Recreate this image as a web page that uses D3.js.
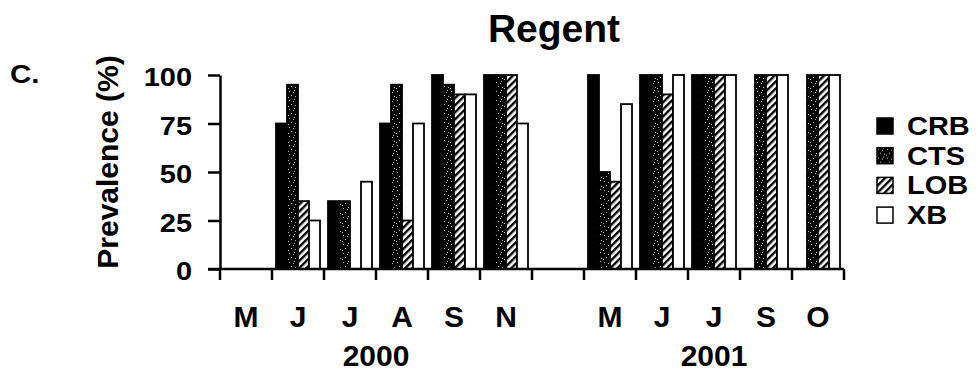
<!DOCTYPE html>
<html lang="en">
<head>
  <meta charset="utf-8">
  <title>Regent</title>
  <script type="text/javascript" src="https://cdnjs.cloudflare.com/ajax/libs/d3/7.8.5/d3.min.js"></script>
  <style>
    body { margin: 0; background: #fff; }
    text { font-family: "Liberation Sans", Arial, sans-serif; font-weight: bold; fill: #000; }
  </style>
</head>
<body>
  <script type="text/javascript">

  // mois (une case vide entre 2000 et 2001)
  var months = ["M", "J", "J", "A", "S", "N", "", "M", "J", "J", "S", "O"];
  var years = ["2000", "2001"];
  var yearSlots = [[0, 5], [7, 11]];
  var series = ["CRB", "CTS", "LOB", "XB"];
  var yTicks = [0, 25, 50, 75, 100];

  var CRB = [0, 75, 35, 75, 100, 100, null, 100, 100, 100, 0, 0];
  var CTS = [0, 95, 35, 95, 95, 100, null, 50, 100, 100, 100, 100];
  var LOB = [0, 35, 0, 25, 90, 100, null, 45, 90, 100, 100, 100];
  var XB  = [0, 25, 45, 75, 90, 75, null, 85, 100, 100, 100, 100];
  var values = { CRB: CRB, CTS: CTS, LOB: LOB, XB: XB };

  var width = 978, height = 374;
  var svg = d3.select("body").append("svg")
    .attr("width", width)
    .attr("height", height);

  // motifs : pointillé pour CTS, hachures pour LOB
  var defs = svg.append("defs");
  var stip = defs.append("pattern")
    .attr("id", "stip")
    .attr("patternUnits", "userSpaceOnUse")
    .attr("width", 9).attr("height", 9);
  stip.append("rect").attr("width", 9).attr("height", 9).attr("fill", "#000");
  [[1, 1], [5, 2], [3, 5], [7, 6], [0, 7], [6, 0]].forEach(function(p) {
    stip.append("rect").attr("x", p[0]).attr("y", p[1])
      .attr("width", 1).attr("height", 1).attr("fill", "#bbb");
  });
  var hatch = defs.append("pattern")
    .attr("id", "hatch")
    .attr("patternUnits", "userSpaceOnUse")
    .attr("width", 5).attr("height", 5)
    .attr("patternTransform", "rotate(45)");
  hatch.append("rect").attr("width", 5).attr("height", 5).attr("fill", "#fff");
  hatch.append("rect").attr("width", 2.4).attr("height", 5).attr("fill", "#000");

  var fills = { CRB: "#000", CTS: "url(#stip)", LOB: "url(#hatch)", XB: "#fff" };

  var x = d3.scaleBand()
    .domain(d3.range(months.length))
    .range([220, 844])
    .padding(0);
  var inner = d3.scaleBand()
    .domain(series)
    .range([4, 48]);
  var y = d3.scaleLinear()
    .domain([0, 100])
    .range([269, 75]);

  // barres
  series.forEach(function(s) {
    var pts = values[s].map(function(v, i) { return { i: i, v: v }; })
      .filter(function(d) { return d.v; });
    svg.append("g")
      .selectAll("rect")
      .data(pts)
      .enter().append("rect")
      .attr("x", d => x(d.i) + inner(s))
      .attr("y", d => y(d.v))
      .attr("width", inner.bandwidth())
      .attr("height", d => y(0) - y(d.v))
      .attr("fill", fills[s])
      .attr("stroke", "#000")
      .attr("stroke-width", 1.8);
  });

  // axe y
  var yAxis = svg.append("g")
    .attr("transform", "translate(220,0)")
    .call(d3.axisLeft(y).tickValues(yTicks).tickSize(12).tickSizeOuter(0));
  yAxis.select(".domain").attr("stroke-width", 2.5);
  yAxis.selectAll(".tick line").attr("stroke-width", 2.5);
  yAxis.selectAll(".tick text")
    .attr("font-size", 25)
    .attr("x", -28 / 1.16)
    .attr("dy", "0.42em")
    .attr("transform", "scale(1.16,1)");

  // axe x : traits aux limites des cases
  var bounds = d3.range(months.length + 1).map(function(i) {
    return i < months.length ? x(i) : x(i - 1) + x.bandwidth();
  });
  svg.append("line")
    .attr("x1", 208).attr("x2", bounds[bounds.length - 1])
    .attr("y1", y(0)).attr("y2", y(0))
    .attr("stroke", "#000").attr("stroke-width", 2.5);
  svg.append("g").selectAll("line")
    .data(bounds)
    .enter().append("line")
    .attr("x1", d => d).attr("x2", d => d)
    .attr("y1", y(0)).attr("y2", y(0) + 11)
    .attr("stroke", "#000").attr("stroke-width", 2.5);

  svg.append("g").selectAll("text")
    .data(months)
    .enter().append("text")
    .attr("x", (d, i) => x(i) + x.bandwidth() / 2)
    .attr("y", 327)
    .attr("text-anchor", "middle")
    .attr("font-size", 30)
    .text(d => d);

  svg.append("g").selectAll("text")
    .data(years)
    .enter().append("text")
    .attr("x", (d, i) => (x(yearSlots[i][0]) + x(yearSlots[i][1]) + x.bandwidth()) / 2)
    .attr("y", 366)
    .attr("text-anchor", "middle")
    .attr("font-size", 30)
    .text(d => d);

  // titres
  svg.append("text")
    .attr("x", 554).attr("y", 42)
    .attr("text-anchor", "middle")
    .attr("font-size", 39)
    .text("Regent");

  svg.append("text")
    .attr("transform", "translate(10,83) scale(1.18,1)")
    .attr("font-size", 25)
    .text("C.");

  svg.append("text")
    .attr("transform", "translate(118,162) rotate(-90)")
    .attr("text-anchor", "middle")
    .attr("font-size", 30)
    .text("Prevalence (%)");

  // légende
  var legend = svg.append("g").selectAll("g")
    .data(series)
    .enter().append("g")
    .attr("transform", (d, i) => "translate(877," + (118 + i * 29.7) + ")");
  legend.append("rect")
    .attr("width", 16).attr("height", 16)
    .attr("fill", d => fills[d])
    .attr("stroke", "#000")
    .attr("stroke-width", 1.5);
  legend.append("text")
    .attr("transform", "translate(30,17) scale(1.16,1)")
    .attr("font-size", 25)
    .text(d => d);

  </script>
</body>
</html>
